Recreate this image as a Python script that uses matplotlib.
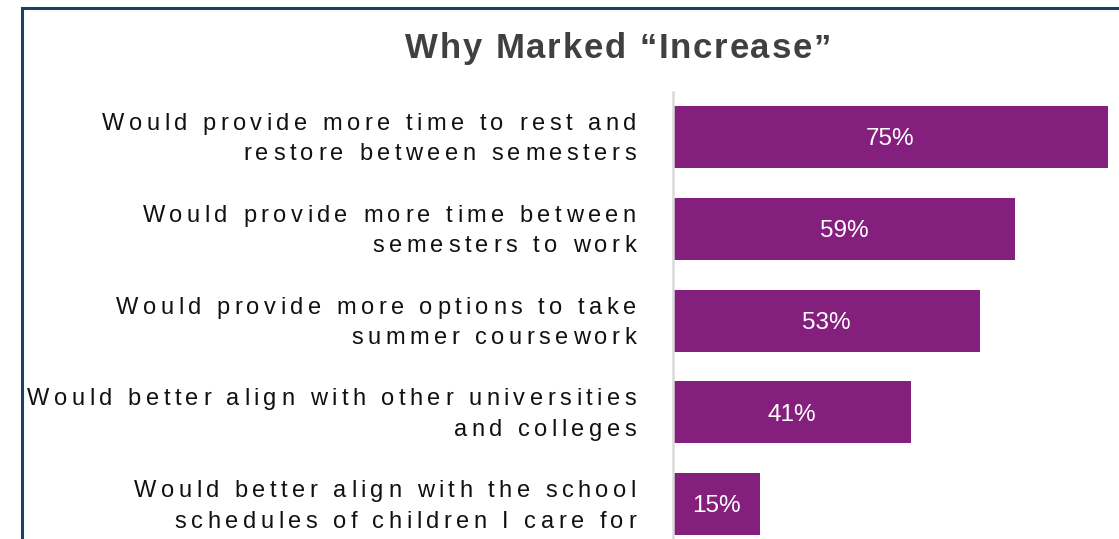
import matplotlib
matplotlib.use("Agg")
import matplotlib.pyplot as plt
from matplotlib.patches import Rectangle
from matplotlib.transforms import IdentityTransform
from matplotlib.font_manager import FontProperties, findfont, get_font

# data
reasons = [
    ["Would provide more time to rest and", "restore between semesters"],
    ["Would provide more time between", "semesters to work"],
    ["Would provide more options to take", "summer coursework"],
    ["Would better align with other universities", "and colleges"],
    ["Would better align with the school", "schedules of children I care for"],
]
pct = [75, 59, 53, 41, 15]
title = "Why Marked \u201cIncrease\u201d"

W, H = 1119, 539
DPI = 100
plt.rcParams['font.family'] = ['Liberation Sans', 'DejaVu Sans']
fig = plt.figure(figsize=(W / DPI, H / DPI), dpi=DPI)


def spaced_text(x, y, s, size, track, ha="right", weight="normal", color="#111111"):
    """Draw a string with extra letter spacing (pixels, display coords)."""
    fp = FontProperties(family="Liberation Sans", size=size, weight=weight)
    font = get_font(findfont(fp))
    font.set_size(size, DPI)
    advs = [font.load_char(ord(c)).linearHoriAdvance / 65536 for c in s]
    total = sum(advs) + track * (len(s) - 1)
    if ha == "right":
        cx = x - total
    elif ha == "center":
        cx = x - total / 2
    else:
        cx = x
    for c, a in zip(s, advs):
        if c != " ":
            fig.text(cx, y, c, transform=IdentityTransform(), ha="left",
                     va="baseline", fontproperties=fp, color=color)
        cx += a + track


# axes placed in pixel terms of the reference
left_px, top_px = 673, 92
ax = fig.add_axes([left_px / W, 0, (W - left_px) / W, (H - top_px) / H])

bar_color = "#841F7E"
y = list(range(len(pct)))
bars = ax.barh(y, pct, height=0.675, color=bar_color)
ax.set_xlim(0, (W - left_px) / 5.8)
ax.set_ylim(4.38, -0.49)

for b, v in zip(bars, pct):
    ax.annotate(f"{v}%", xy=(b.get_width() / 2, b.get_y() + b.get_height() / 2),
                xytext=(0, -6), textcoords="offset points",
                ha="center", va="baseline", color="white", fontsize=17.5)

ax.set_xticks([])
ax.set_yticks([])
for s in ["top", "right", "bottom"]:
    ax.spines[s].set_visible(False)
ax.spines["left"].set_color("#D9D9D9")
ax.spines["left"].set_linewidth(1.8)

# category labels, two letter-spaced lines per bar, right aligned
x_right = ax.transAxes.transform((0, 0))[0] - 37
for yi, lines in zip(y, reasons):
    yc = ax.transData.transform((0, yi))[1]
    spaced_text(x_right, yc + 7, lines[0], 17, 4.5)
    spaced_text(x_right, yc - 23.5, lines[1], 17, 4.5)

spaced_text(618, H - 58, title, 25, 1.8, ha="center", weight="bold", color="#404040")

# dark blue frame, open to the right and bottom
fig.patches.append(Rectangle((22 / W, -0.1), 1.2, 1 - 8 / H + 0.1,
                             transform=fig.transFigure, fill=False,
                             edgecolor="#1F3F6B", linewidth=2.2))

fig.savefig("out.png", dpi=DPI)
